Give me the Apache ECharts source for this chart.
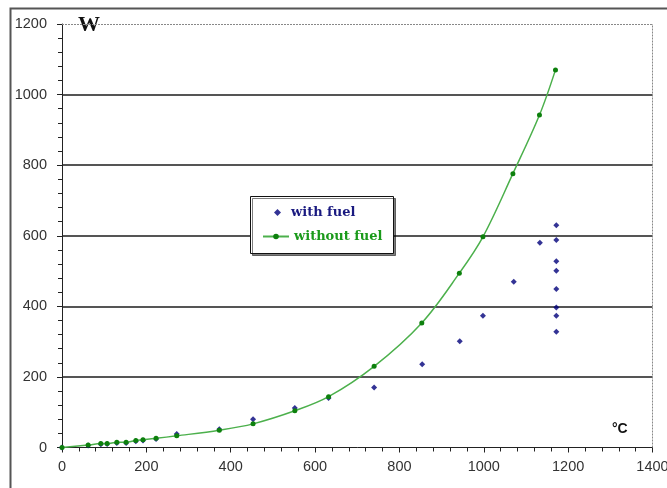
<!DOCTYPE html>
<html>
<head>
<meta charset="utf-8">
<script src="https://cdn.jsdelivr.net/npm/echarts@6/dist/echarts.min.js"></script>
<style>html,body{margin:0;padding:0;background:#fff}#c{width:667px;height:488px}</style>
</head>
<body>
<div id="c"></div>
<script>
// without fuel (green, line + points)
var withoutFuelX = [0, 62, 92, 107, 130, 152, 175, 192, 223, 272, 373, 453, 552, 632, 740, 853, 942, 998, 1069, 1132, 1170];
var withoutFuelY = [0, 7, 11, 11, 15, 15, 20, 22, 26, 33, 49, 67, 104, 144, 230, 353, 494, 597, 776, 942, 1070];
// with fuel (blue points)
var withFuelX = [0, 62, 92, 107, 130, 152, 175, 192, 223, 272, 373, 453, 552, 632, 740, 854, 943, 998, 1071, 1133, 1172, 1172, 1172, 1172, 1172, 1172, 1172, 1172];
var withFuelY = [0, 6, 9, 10, 13, 13, 18, 20, 24, 38, 52, 80, 112, 140, 170, 236, 301, 373, 470, 580, 630, 588, 528, 501, 449, 397, 373, 328];
var xTicks = [0, 200, 400, 600, 800, 1000, 1200, 1400];
var yTicks = [0, 200, 400, 600, 800, 1000, 1200];
var seriesNames = ['with fuel', 'without fuel'];

function zip(a, b) { return a.map(function (v, i) { return [v, b[i]]; }); }

var xMin = xTicks[0], xMax = xTicks[xTicks.length - 1];
var yMin = yTicks[0], yMax = yTicks[yTicks.length - 1];
var chart = echarts.init(document.getElementById('c'));
var labelFont = { color: '#333', fontFamily: '"Liberation Sans", Arial, sans-serif', fontSize: 14.5 };
var plain = function (v) { return String(v); };
var legendText = { fontFamily: '"DejaVu Serif", "Liberation Serif", serif', fontWeight: 'bold', fontSize: 13 };
chart.setOption({
  animation: false,
  backgroundColor: '#fff',
  grid: { left: 62, right: 14.5, top: 24, bottom: 40.5, containLabel: false, outerBoundsMode: 'none' },
  xAxis: {
    type: 'value', min: xMin, max: xMax, interval: 200,
    axisLine: { lineStyle: { color: '#222', width: 1 } },
    axisTick: { show: true, length: 5, lineStyle: { color: '#222' } },
    minorTick: { show: true, splitNumber: 5, length: 4, lineStyle: { color: '#222' } },
    axisLabel: Object.assign({ margin: 12, formatter: plain, hideOverlap: false }, labelFont),
    splitLine: { show: false }
  },
  yAxis: {
    type: 'value', min: yMin, max: yMax, interval: 200,
    axisLine: { show: true, lineStyle: { color: '#222', width: 1 } },
    axisTick: { show: true, length: 5, lineStyle: { color: '#222' } },
    minorTick: { show: true, splitNumber: 5, length: 4, lineStyle: { color: '#222' } },
    axisLabel: Object.assign({ margin: 15, formatter: plain }, labelFont),
    splitLine: { show: true, showMinLine: false, showMaxLine: false, lineStyle: { color: '#555', width: 2 } }
  },
  legend: [{
    orient: 'vertical', left: 274, top: 206, z: 10, padding: 0,
    itemWidth: 7, itemHeight: 7,
    textStyle: Object.assign({ color: '#1a1a80', padding: [0, 0, 0, 5] }, legendText),
    data: [{ name: seriesNames[0], icon: 'diamond' }]
  }, {
    orient: 'vertical', left: 262, top: 230, z: 10, padding: 0,
    itemWidth: 26, itemHeight: 7,
    textStyle: Object.assign({ color: '#1a9a1a' }, legendText),
    data: [{ name: seriesNames[1] }]
  }],
  series: [{
    name: seriesNames[0], type: 'scatter', symbol: 'diamond', symbolSize: 6,
    itemStyle: { color: '#00007a' }, z: 3,
    data: zip(withFuelX, withFuelY),
    markLine: {
      silent: true, symbol: 'none', label: { show: false }, animation: false,
      lineStyle: { color: '#888', type: [2, 1], width: 1 },
      data: [{ yAxis: yMax }, { xAxis: xMax }]
    }
  }, {
    name: seriesNames[1], type: 'line', smooth: 0.35, symbol: 'circle', symbolSize: 5,
    showSymbol: true,
    lineStyle: { color: '#4cb04c', width: 1.5 },
    itemStyle: { color: '#0d800d' }, z: 4,
    data: zip(withoutFuelX, withoutFuelY)
  }],
  graphic: [{
    type: 'rect', shape: { x: 10.5, y: 8.5, width: 700, height: 520 },
    style: { fill: 'none', stroke: '#555', lineWidth: 2 }, silent: true
  }, {
    type: 'rect', z: 5, shape: { x: 250.5, y: 196.5, width: 143, height: 57 },
    style: { fill: '#fff', stroke: '#111', lineWidth: 1, shadowColor: 'rgba(0,0,0,0.5)', shadowOffsetX: 2, shadowOffsetY: 2, shadowBlur: 0 },
    silent: true
  }, {
    type: 'text', left: 76, top: 14, z: 5,
    style: { text: 'W', fill: '#111', font: 'bold 22px "Liberation Serif", serif', backgroundColor: '#fff', padding: [0, 4, 0, 2] }
  }, {
    type: 'text', left: 612, top: 422,
    style: { text: '°C', fill: '#111', font: 'bold 14px "Liberation Sans", Arial, sans-serif' }
  }]
});
</script>
</body>
</html>
